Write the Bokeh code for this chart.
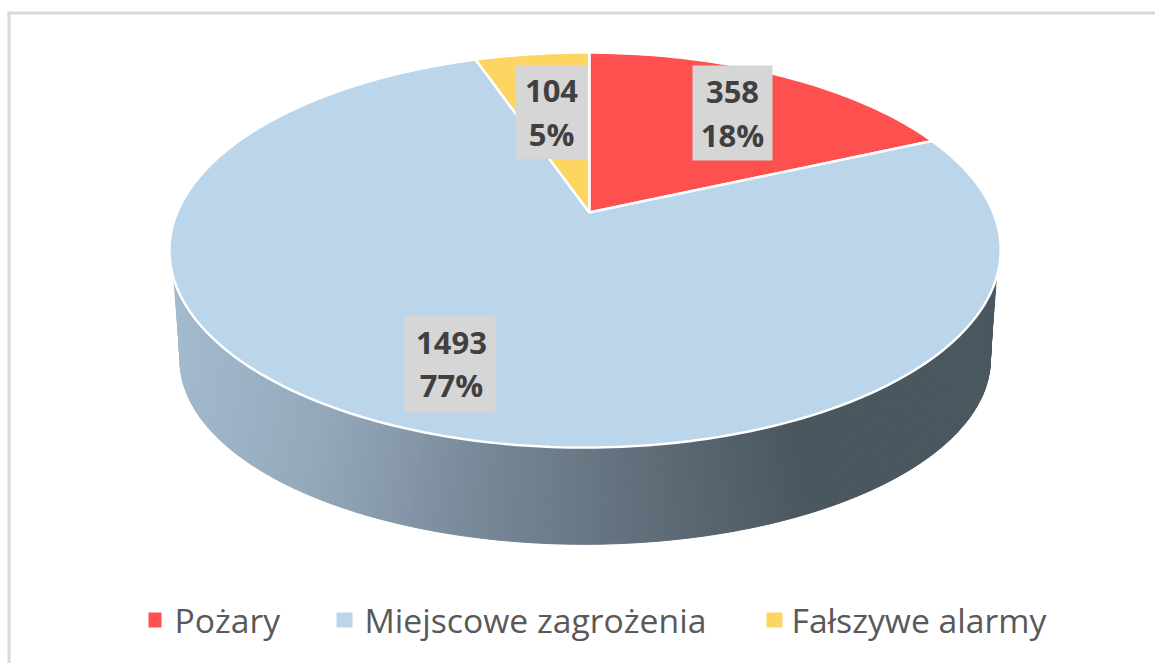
import math
from bokeh.plotting import figure
from bokeh.models import Range1d
from bokeh.core.properties import value
from bokeh.embed import file_html
from bokeh.resources import INLINE

# --- chart data
categories = ["Pożary", "Miejscowe zagrożenia", "Fałszywe alarmy"]
counts = [358, 1493, 104]
percent_labels = ["18%", "77%", "5%"]
colors = ["#FF5050", "#BBD5EB", "#FCD562"]

# --- layout (page pixels)
W, H = 1155, 663
CX, CY, A, B, K, M = 588.8, 212, 408, 190.4, 0.19, 0.01
DEPTH_Y, DEPTH_SX, DEPTH_SY = 112, 0.975, 0.935
LABEL_BOXES = [(692, 772, 65, 160), (404, 495, 315, 412), (515, 587.5, 65, 158.5)]
LABEL_CENTERS = [(732, 91, 134), (451, 342, 384), (551, 90, 133)]
LEGEND_SQ = [(148, 161), (336, 352), (766, 782)]
LEGEND_TX = [174, 364, 791]

p = figure(width=W, height=H, output_backend="svg", toolbar_location=None,
           x_range=Range1d(0, W), y_range=Range1d(H, 0),
           min_border=0, outline_line_color=None, background_fill_color="white",
           border_fill_color="white", x_axis_type=None, y_axis_type=None)
p.grid.visible = False


def top_pt(theta):
    X, Y = math.sin(theta), math.cos(theta)
    w = 1 + K * Y + M * X
    return CX + A * X / w, CY - B * Y / w


def low_pt(theta):
    # lower rim: the silhouette corners sit nearer the sides than on the top rim
    theta = math.pi + (theta - math.pi) * (80 / 71)
    X, Y = math.sin(theta), math.cos(theta)
    w = 1 + K * Y + M * X
    return CX + DEPTH_SX * A * X / w, CY + DEPTH_Y - DEPTH_SY * B * Y / w


def wall_color(x):
    stops = [(175, (163, 186, 207)), (330, (148, 168, 186)), (490, (118, 135, 150)),
             (640, (96, 110, 122)), (790, (74, 87, 95)), (1001, (74, 87, 95))]
    for (x0, c0), (x1, c1) in zip(stops, stops[1:]):
        if x <= x1:
            t = max(0, (x - x0) / (x1 - x0))
            return "#%02x%02x%02x" % tuple(round(u + (v - u) * t) for u, v in zip(c0, c1))
    return "#4a575f"


# side wall: thin strips around the near half of the disc
n = 220
lo, hi = math.radians(109), math.radians(251)
xs, ys, cs = [], [], []
for i in range(n):
    t0 = lo + (hi - lo) * i / n
    t1 = lo + (hi - lo) * (i + 1) / n
    a0, a1, b0, b1 = top_pt(t0), top_pt(t1), low_pt(t1), low_pt(t0)
    xs.append([a0[0], a1[0], b0[0], b1[0]])
    ys.append([a0[1], a1[1], b0[1], b1[1]])
    cs.append(wall_color((a0[0] + a1[0]) / 2))
p.patches(xs, ys, fill_color=cs, line_color=cs, line_width=1)

# top face: wedges from the counts
total = sum(counts)
start = 0.0
for cnt, col in zip(counts, colors):
    sweep = 2 * math.pi * cnt / total
    steps = max(8, int(cnt / total * 360))
    pts = [top_pt(start + sweep * j / steps) for j in range(steps + 1)]
    p.patch([CX] + [q[0] for q in pts], [CY] + [q[1] for q in pts],
            fill_color=col, line_color="white", line_width=2.5)
    start += sweep

# data labels
for (x0, x1, y0, y1), (tx, y_a, y_b), cnt, pct in zip(LABEL_BOXES, LABEL_CENTERS, counts, percent_labels):
    p.quad(left=x0, right=x1, top=y0, bottom=y1, fill_color="#D6D6D6", line_color=None)
    p.text([tx, tx], [y_a, y_b], text=[str(cnt), pct], text_font=value("Open Sans"),
           text_font_style="bold", text_font_size="31px", text_color="#404040",
           text_align="center", text_baseline="middle")

# legend
for (x0, x1), tx, col, name in zip(LEGEND_SQ, LEGEND_TX, colors, categories):
    p.quad(left=x0, right=x1, top=612, bottom=627, fill_color=col, line_color=None)
    p.text([tx], [619], text=[name], text_font=value("Open Sans"), text_font_size="33.7px",
           text_color="#595959", text_align="left", text_baseline="middle")

# frame
p.line([8.5, 8.5], [11, H], line_color="#D9D9D9", line_width=3)
p.line([7, W], [12.5, 12.5], line_color="#D9D9D9", line_width=3)

open("out.html", "w").write(file_html(p, INLINE))
